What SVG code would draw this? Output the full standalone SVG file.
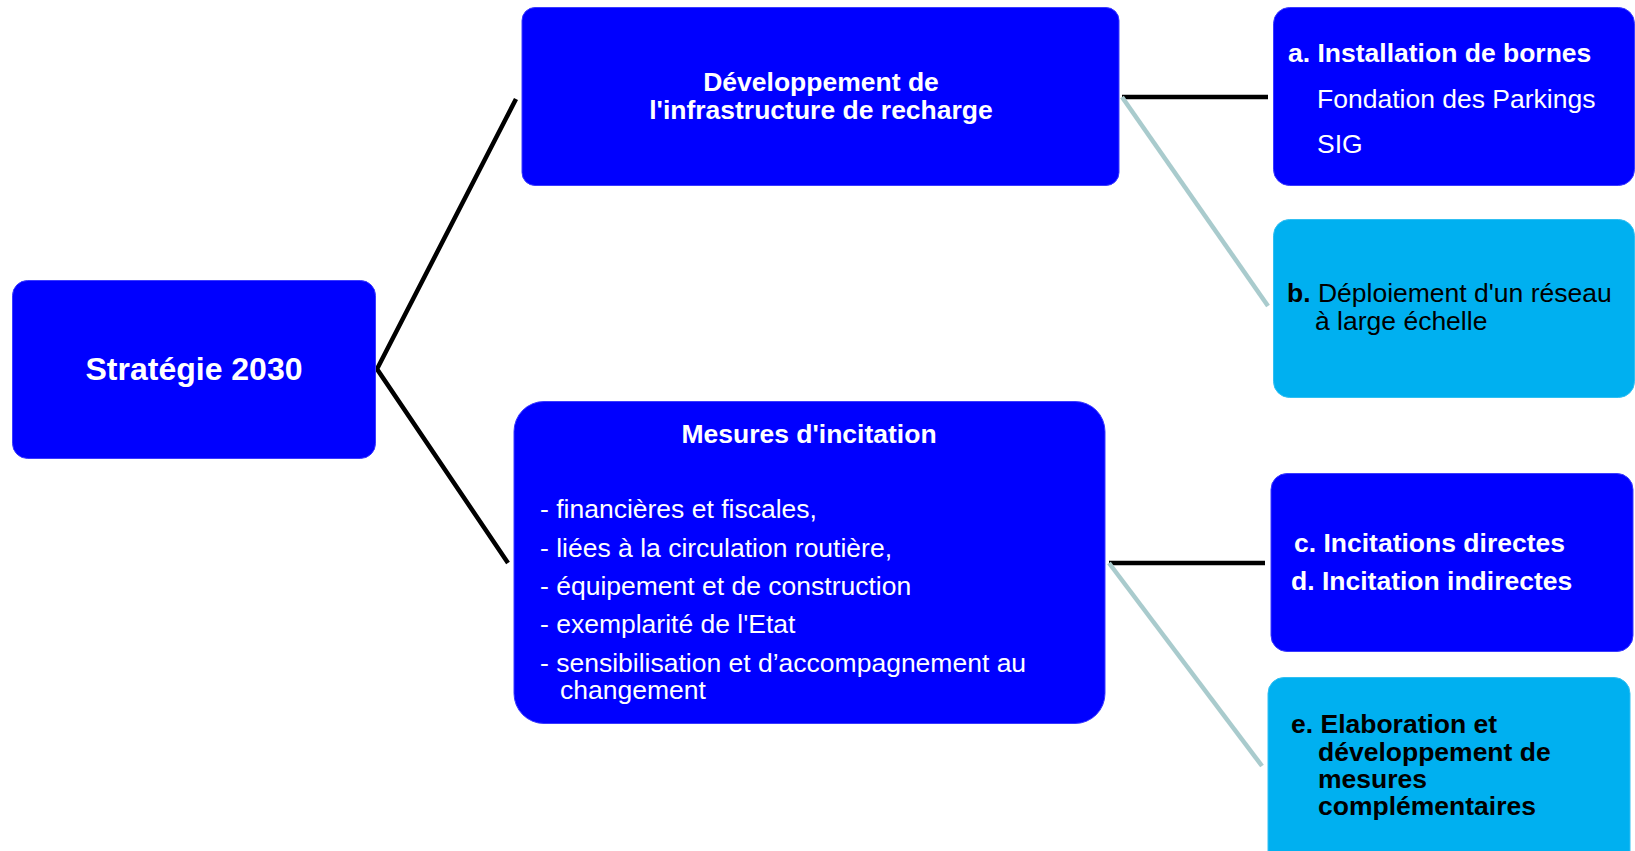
<svg xmlns="http://www.w3.org/2000/svg" width="1635" height="851" viewBox="0 0 1635 851">
<style>
.dark{fill:#0000FF;stroke:#3a3aff;stroke-width:1}
.light{fill:#00B0F0;stroke:#30bff2;stroke-width:1}
text{font-family:"Liberation Sans",Arial,sans-serif;font-size:26.5px}
.w{fill:#FFFFFF}
.k{fill:#000000}
.b{font-weight:bold}
.main{stroke:#000000;stroke-width:4.5;fill:none}
.sub{stroke:#A9CBCD;stroke-width:4.5;fill:none}
</style>
<rect width="1635" height="851" fill="#FFFFFF"/>
<g id="connectors">
<polyline class="main" points="516,99 377,369 508,563"/>
<line class="main" x1="1122" y1="97" x2="1268" y2="97"/>
<line class="sub" x1="1122" y1="97" x2="1268" y2="306"/>
<line class="main" x1="1109" y1="563" x2="1265" y2="563"/>
<line class="sub" x1="1109" y1="563" x2="1262" y2="766"/>
</g>
<g id="strategie">
<rect class="dark" x="12.5" y="280.5" width="363" height="178" rx="15"/>
<text class="w b" x="194" y="380" text-anchor="middle" font-size="32" style="font-size:32px">Stratégie 2030</text>
</g>
<g id="developpement">
<rect class="dark" x="522" y="7.5" width="597" height="178" rx="13"/>
<text class="w b" x="821" y="91" text-anchor="middle">Développement de</text>
<text class="w b" x="821" y="119" text-anchor="middle">l'infrastructure de recharge</text>
</g>
<g id="mesures">
<rect class="dark" x="514" y="401.5" width="591" height="322" rx="30"/>
<text class="w b" x="809" y="443" text-anchor="middle">Mesures d'incitation</text>
<text class="w" x="540" y="518">- financières et fiscales,</text>
<text class="w" x="540" y="557">- liées à la circulation routière,</text>
<text class="w" x="540" y="595">- équipement et de construction</text>
<text class="w" x="540" y="633">- exemplarité de l'Etat</text>
<text class="w" x="540" y="672">- sensibilisation et d’accompagnement au</text>
<text class="w" x="560" y="699">changement</text>
</g>
<g id="node-a">
<rect class="dark" x="1273.5" y="7.5" width="361" height="178" rx="16"/>
<text class="w b" x="1288" y="62">a. Installation de bornes</text>
<text class="w" x="1317" y="108">Fondation des Parkings</text>
<text class="w" x="1317" y="153">SIG</text>
</g>
<g id="node-b">
<rect class="light" x="1273.5" y="219.5" width="361" height="178" rx="16"/>
<text class="k" x="1287" y="302"><tspan class="b">b.</tspan> Déploiement d'un réseau</text>
<text class="k" x="1315" y="330">à large échelle</text>
</g>
<g id="node-cd">
<rect class="dark" x="1271" y="473.5" width="362" height="178" rx="16"/>
<text class="w b" x="1294" y="552">c. Incitations directes</text>
<text class="w b" x="1291" y="590">d. Incitation indirectes</text>
</g>
<g id="node-e">
<rect class="light" x="1268" y="677.5" width="362" height="200" rx="16"/>
<text class="k b" x="1291" y="733">e. Elaboration et</text>
<text class="k b" x="1318" y="761">développement de</text>
<text class="k b" x="1318" y="788">mesures</text>
<text class="k b" x="1318" y="815">complémentaires</text>
</g>
</svg>
